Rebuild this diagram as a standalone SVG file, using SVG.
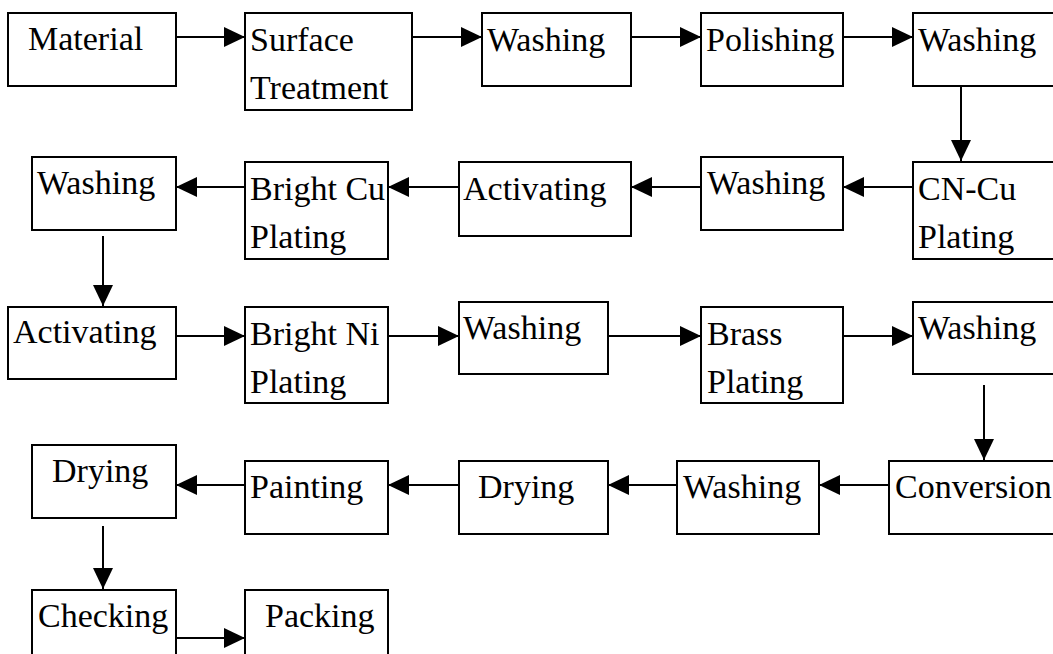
<svg xmlns="http://www.w3.org/2000/svg" width="1053" height="654" viewBox="0 0 1053 654">
  <style>
    .box { fill: #fff; stroke: #000; stroke-width: 2; }
    .lbl { font-family: "Liberation Serif", "DejaVu Serif", serif; font-size: 34px; fill: #000; }
    .flow { stroke: #000; stroke-width: 2; fill: none; marker-end: url(#head); }
  </style>
  <defs>
    <marker id="head" markerUnits="userSpaceOnUse" markerWidth="21" markerHeight="20" refX="21" refY="10" orient="auto">
      <path d="M0,0 L21,10 L0,20 Z" fill="#000"/>
    </marker>
  </defs>
  <rect width="1053" height="654" fill="#fff"/>

  <!-- process steps -->
  <g id="material"><rect class="box" x="8" y="13" width="168" height="73"/><text class="lbl" x="28" y="50">Material</text></g>
  <g id="surface-treatment"><rect class="box" x="245" y="13" width="167" height="97"/><text class="lbl" x="250" y="51">Surface</text><text class="lbl" x="250" y="99">Treatment</text></g>
  <g id="washing-1"><rect class="box" x="482" y="13" width="149" height="73"/><text class="lbl" x="487" y="51">Washing</text></g>
  <g id="polishing"><rect class="box" x="701" y="13" width="142" height="73"/><text class="lbl" x="706" y="51">Polishing</text></g>
  <g id="washing-2"><rect class="box" x="913" y="13" width="160" height="73"/><text class="lbl" x="918" y="51">Washing</text></g>

  <g id="cn-cu-plating"><rect class="box" x="913" y="162" width="160" height="97"/><text class="lbl" x="918" y="200">CN-Cu</text><text class="lbl" x="918" y="248">Plating</text></g>
  <g id="washing-3"><rect class="box" x="701" y="157" width="142" height="73"/><text class="lbl" x="707" y="194">Washing</text></g>
  <g id="activating-1"><rect class="box" x="459" y="162" width="172" height="74"/><text class="lbl" x="463" y="200">Activating</text></g>
  <g id="bright-cu-plating"><rect class="box" x="245" y="162" width="143" height="97"/><text class="lbl" x="250" y="200">Bright Cu</text><text class="lbl" x="250" y="248">Plating</text></g>
  <g id="washing-4"><rect class="box" x="32" y="157" width="144" height="73"/><text class="lbl" x="37" y="194">Washing</text></g>

  <g id="activating-2"><rect class="box" x="8" y="307" width="168" height="72"/><text class="lbl" x="13" y="343">Activating</text></g>
  <g id="bright-ni-plating"><rect class="box" x="245" y="307" width="143" height="96"/><text class="lbl" x="250" y="345">Bright Ni</text><text class="lbl" x="250" y="393">Plating</text></g>
  <g id="washing-5"><rect class="box" x="459" y="302" width="149" height="72"/><text class="lbl" x="463" y="339">Washing</text></g>
  <g id="brass-plating"><rect class="box" x="701" y="307" width="142" height="96"/><text class="lbl" x="707" y="345">Brass</text><text class="lbl" x="707" y="393">Plating</text></g>
  <g id="washing-6"><rect class="box" x="913" y="302" width="160" height="72"/><text class="lbl" x="918" y="339">Washing</text></g>

  <g id="conversion"><rect class="box" x="889" y="461" width="180" height="73"/><text class="lbl" x="895" y="498">Conversion</text></g>
  <g id="washing-7"><rect class="box" x="677" y="461" width="142" height="73"/><text class="lbl" x="683" y="498">Washing</text></g>
  <g id="drying-1"><rect class="box" x="459" y="461" width="149" height="73"/><text class="lbl" x="478" y="498">Drying</text></g>
  <g id="painting"><rect class="box" x="245" y="461" width="143" height="73"/><text class="lbl" x="250" y="498">Painting</text></g>
  <g id="drying-2"><rect class="box" x="32" y="445" width="144" height="73"/><text class="lbl" x="52" y="482">Drying</text></g>

  <g id="checking"><rect class="box" x="32" y="590" width="144" height="80"/><text class="lbl" x="38" y="627">Checking</text></g>
  <g id="packing"><rect class="box" x="245" y="590" width="143" height="80"/><text class="lbl" x="265" y="627">Packing</text></g>

  <!-- flow connectors -->
  <g id="connectors">
    <line class="flow" x1="176" y1="37" x2="245" y2="37"/>
    <line class="flow" x1="412" y1="37" x2="482" y2="37"/>
    <line class="flow" x1="631" y1="37" x2="701" y2="37"/>
    <line class="flow" x1="843" y1="37" x2="913" y2="37"/>
    <line class="flow" x1="961" y1="86" x2="961" y2="161"/>

    <line class="flow" x1="913" y1="187" x2="843" y2="187"/>
    <line class="flow" x1="701" y1="187" x2="631" y2="187"/>
    <line class="flow" x1="459" y1="187" x2="388" y2="187"/>
    <line class="flow" x1="245" y1="187" x2="176" y2="187"/>
    <line class="flow" x1="103" y1="236" x2="103" y2="306"/>

    <line class="flow" x1="176" y1="336" x2="245" y2="336"/>
    <line class="flow" x1="388" y1="336" x2="459" y2="336"/>
    <line class="flow" x1="608" y1="336" x2="701" y2="336"/>
    <line class="flow" x1="843" y1="336" x2="913" y2="336"/>
    <line class="flow" x1="984" y1="385" x2="984" y2="460"/>

    <line class="flow" x1="889" y1="485" x2="819" y2="485"/>
    <line class="flow" x1="677" y1="485" x2="608" y2="485"/>
    <line class="flow" x1="459" y1="485" x2="388" y2="485"/>
    <line class="flow" x1="245" y1="485" x2="176" y2="485"/>
    <line class="flow" x1="103" y1="526" x2="103" y2="589"/>

    <line class="flow" x1="176" y1="638" x2="245" y2="638"/>
  </g>
</svg>
